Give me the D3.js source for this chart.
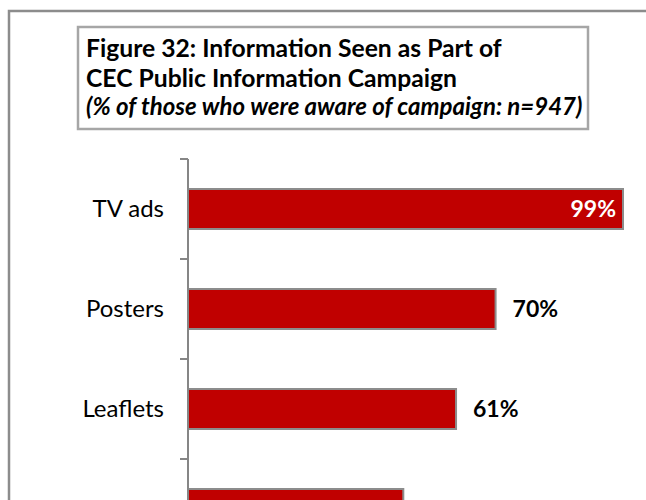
<!DOCTYPE html>
<html>
<head>
<meta charset="utf-8">
<script src="https://cdn.jsdelivr.net/npm/d3@7"></script>
<style>
  html, body { margin: 0; padding: 0; background: #fff; }
  svg { display: block; font-family: Lato, "Open Sans", sans-serif; }
</style>
</head>
<body>
<div id="chart"></div>
<script>
// Survey data: share of respondents who saw each campaign item
const categories = ["TV ads", "Posters", "Leaflets", "Newspaper ads"];
const values = [99, 70, 61, 49];
const titleLines = [
  "Figure 32: Information Seen as Part of",
  "CEC Public Information Campaign"
];
const subtitle = "(% of those who were aware of campaign: n=947)";

const W = 646, H = 500;
const svg = d3.select("#chart").append("svg")
  .attr("width", W).attr("height", H);

// Outer chart frame (continues past the visible area)
svg.append("rect")
  .attr("x", 9).attr("y", 11)
  .attr("width", 700).attr("height", 600)
  .attr("fill", "#fff")
  .attr("stroke", "#8c8c8c").attr("stroke-width", 2.5);

// Title box
svg.append("rect")
  .attr("x", 78).attr("y", 27)
  .attr("width", 510).attr("height", 102)
  .attr("fill", "#fff")
  .attr("stroke", "#a6a6a6").attr("stroke-width", 2.5);

const title = svg.append("g").attr("fill", "#000").attr("font-weight", 700);
titleLines.forEach((t, i) => {
  title.append("text")
    .attr("x", 86).attr("y", 57 + i * 29.5)
    .attr("font-size", 24.7)
    .text(t);
});
title.append("text")
  .attr("x", 86).attr("y", 115)
  .attr("font-size", 24)
  .attr("font-style", "italic")
  .text(subtitle);

// Scales
const x = d3.scaleLinear().domain([0, 100]).range([188, 627.4]);
const y = d3.scaleBand()
  .domain(categories)
  .range([159, 559])
  .paddingInner(0.6)
  .paddingOuter(0.3);

// Bars
svg.append("g").selectAll("rect")
  .data(categories)
  .join("rect")
  .attr("x", x(0))
  .attr("y", d => y(d))
  .attr("width", (d, i) => x(values[i]) - x(0))
  .attr("height", y.bandwidth())
  .attr("fill", "#c00000")
  .attr("stroke", "#8c8c8c")
  .attr("stroke-width", 2);

// Category axis with ticks between bands
const axisX = x(0);
const axis = svg.append("g").attr("stroke", "#868686").attr("stroke-width", 2);
axis.append("line")
  .attr("x1", axisX).attr("x2", axisX)
  .attr("y1", y.range()[0]).attr("y2", y.range()[1]);
const step = y.step();
d3.range(categories.length + 1).forEach(i => {
  const ty = y.range()[0] + i * step;
  axis.append("line")
    .attr("x1", axisX - 8).attr("x2", axisX)
    .attr("y1", ty).attr("y2", ty);
});

// Category labels
svg.append("g").selectAll("text")
  .data(categories)
  .join("text")
  .attr("x", axisX - 24)
  .attr("y", d => y(d) + y.bandwidth() / 2)
  .attr("dy", "0.35em")
  .attr("text-anchor", "end")
  .attr("font-size", 24)
  .attr("fill", "#000")
  .text(d => d);

// Value labels: inside the longest bar, outside the others
svg.append("g").selectAll("text")
  .data(categories)
  .join("text")
  .attr("x", (d, i) => values[i] > 90 ? x(values[i]) - 7 : x(values[i]) + 17)
  .attr("y", d => y(d) + y.bandwidth() / 2)
  .attr("dy", "0.35em")
  .attr("text-anchor", (d, i) => values[i] > 90 ? "end" : "start")
  .attr("font-size", 23)
  .attr("font-weight", 700)
  .attr("fill", (d, i) => values[i] > 90 ? "#fff" : "#000")
  .text((d, i) => values[i] + "%");
</script>
</body>
</html>
